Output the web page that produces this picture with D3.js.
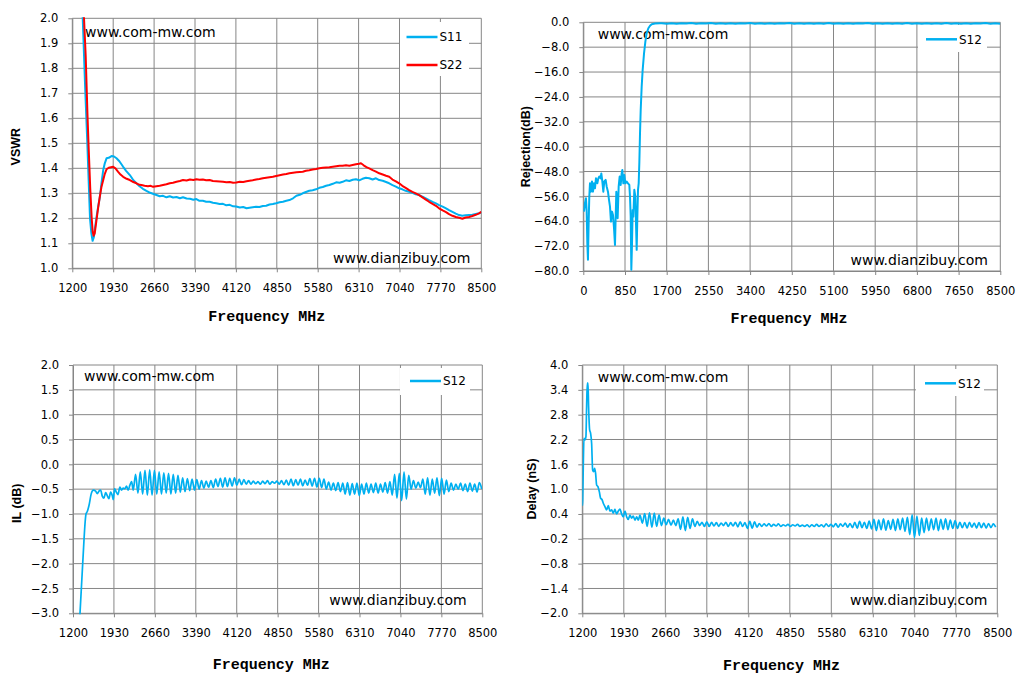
<!DOCTYPE html>
<html><head><meta charset="utf-8">
<script src="https://cdn.jsdelivr.net/npm/d3@7"></script>
<style>body{margin:0;background:#fff}svg{display:block}</style>
</head><body>
<script>
// ---------- DATA ----------
const xTicksVSWR = [1200,1930,2660,3390,4120,4850,5580,6310,7040,7770,8500];
const xTicksRej = [0,850,1700,2550,3400,4250,5100,5950,6800,7650,8500];
const yTicksVSWR = [1.0,1.1,1.2,1.3,1.4,1.5,1.6,1.7,1.8,1.9,2.0];
const yTicksRej = [-80,-72,-64,-56,-48,-40,-32,-24,-16,-8,0];
const yTicksIL = [-3.0,-2.5,-2.0,-1.5,-1.0,-0.5,0.0,0.5,1.0,1.5,2.0];
const yTicksDelay = [-2.0,-1.4,-0.8,-0.2,0.4,1.0,1.6,2.2,2.8,3.4,4.0];

const s11F = [1370,1386,1430,1468,1495,1516,1540,1562,1585,1610,1633,1660,1693,1720,1752,1780,1811,1850,1900,1945,1989,2040,2108,2160,2227,2290,2345,2400,2460,2523,2590,2650,2702,2760,2820,2880,2939,3000,3060,3120,3176,3240,3300,3360,3414,3470,3530,3590,3651,3710,3770,3830,3889,3950,4010,4070,4126,4190,4250,4310,4363,4420,4480,4540,4601,4660,4720,4780,4838,4900,4960,5020,5075,5140,5200,5260,5313,5370,5430,5490,5550,5610,5670,5730,5788,5850,5910,5970,6025,6085,6145,6205,6263,6320,6380,6440,6500,6560,6620,6678,6740,6800,6856,6915,6975,7034,7090,7150,7212,7270,7330,7390,7450,7510,7568,7630,7690,7746,7810,7870,7924,7985,8045,8103,8160,8220,8281,8340,8400,8460,8500];
const s11V = [2.05,2.0,1.72,1.5,1.33,1.2,1.14,1.11,1.125,1.17,1.206,1.245,1.286,1.34,1.393,1.42,1.44,1.442,1.449,1.447,1.44,1.428,1.406,1.39,1.373,1.352,1.34,1.328,1.318,1.31,1.302,1.297,1.293,1.288,1.29,1.284,1.288,1.283,1.285,1.28,1.284,1.279,1.278,1.274,1.277,1.27,1.27,1.266,1.266,1.262,1.26,1.257,1.258,1.252,1.254,1.248,1.247,1.243,1.245,1.24,1.242,1.244,1.246,1.245,1.249,1.25,1.255,1.257,1.26,1.264,1.266,1.27,1.273,1.28,1.29,1.294,1.3,1.305,1.31,1.312,1.316,1.322,1.325,1.33,1.333,1.338,1.344,1.342,1.346,1.352,1.349,1.354,1.356,1.352,1.358,1.362,1.36,1.355,1.36,1.353,1.35,1.345,1.34,1.333,1.327,1.32,1.316,1.31,1.306,1.302,1.296,1.293,1.287,1.28,1.273,1.266,1.26,1.253,1.247,1.24,1.233,1.226,1.219,1.213,1.21,1.212,1.213,1.214,1.217,1.22,1.223];

const s22F = [1395,1409,1439,1470,1489,1520,1546,1565,1580,1600,1630,1660,1693,1720,1752,1780,1811,1850,1890,1930,1970,2019,2060,2108,2170,2227,2290,2345,2400,2434,2490,2550,2600,2642,2700,2760,2820,2880,2940,2998,3060,3120,3176,3240,3300,3360,3414,3470,3530,3590,3651,3710,3770,3830,3889,3950,4010,4070,4126,4190,4250,4310,4363,4420,4480,4540,4601,4660,4720,4780,4838,4900,4960,5020,5075,5140,5200,5260,5313,5370,5430,5490,5550,5610,5670,5730,5788,5850,5910,5970,6025,6085,6145,6203,6263,6320,6352,6400,6450,6500,6560,6620,6678,6740,6800,6856,6915,6975,7034,7090,7150,7212,7270,7330,7390,7450,7510,7568,7630,7690,7746,7810,7870,7924,7985,8045,8103,8162,8220,8281,8340,8400,8460,8500];
const s22V = [2.05,2.0,1.85,1.62,1.5,1.32,1.2,1.145,1.13,1.14,1.19,1.24,1.29,1.325,1.353,1.378,1.396,1.402,1.404,1.406,1.4,1.386,1.375,1.366,1.358,1.353,1.345,1.34,1.334,1.333,1.33,1.328,1.33,1.326,1.328,1.33,1.333,1.336,1.34,1.342,1.346,1.349,1.353,1.351,1.355,1.353,1.356,1.354,1.355,1.352,1.353,1.349,1.348,1.347,1.346,1.344,1.345,1.342,1.343,1.346,1.345,1.348,1.35,1.352,1.355,1.357,1.36,1.362,1.364,1.366,1.369,1.372,1.375,1.377,1.38,1.382,1.384,1.385,1.386,1.39,1.392,1.395,1.397,1.4,1.402,1.403,1.404,1.406,1.408,1.41,1.41,1.412,1.41,1.413,1.416,1.418,1.42,1.412,1.405,1.4,1.393,1.387,1.38,1.375,1.37,1.366,1.355,1.348,1.34,1.33,1.322,1.313,1.306,1.3,1.293,1.284,1.275,1.266,1.258,1.25,1.24,1.232,1.225,1.217,1.21,1.205,1.202,1.198,1.203,1.205,1.209,1.214,1.22,1.226];

const rejHeadF = [14,34,54,68,82,95,109,122,136,156,177,197,218,238,258,286,306,326,354,367,388,408,428,456,476,503,524,544,564,585,605,626,646,660,673,687,700,721,741,762,782,796,816,836,857,884,911,938,952,966,979,993,1006,1020,1040,1061,1074,1088,1102,1115,1129,1142,1156,1170,1190,1210,1238,1265,1292,1326,1360,1394,1462,1564];
const rejHeadV = [-60.9,-58.2,-56.6,-60.4,-71.1,-76.4,-64.6,-56.1,-51.8,-54.5,-51.2,-54.5,-51.8,-53.4,-50.2,-51.8,-50.2,-49.6,-50.2,-48.6,-51.2,-54.5,-51.2,-50.7,-52.8,-54.5,-57.1,-59.3,-64.1,-60.9,-62.0,-66.2,-71.6,-62.5,-54.5,-58.2,-63.0,-52.8,-49.6,-52.3,-48.6,-47.5,-51.8,-49.1,-51.8,-51.2,-51.8,-52.3,-56.1,-62.5,-79.6,-71.1,-60.4,-62.5,-53.9,-56.1,-64.6,-73.2,-62.5,-53.9,-51.8,-45.3,-35.7,-28.2,-20.7,-15.3,-10.0,-6.2,-3.5,-1.9,-1.1,-0.6,-0.4,-0.3];
const rejTailStart = 1600, rejTailStep = 100;
const rejTailV = [-0.3,-0.45,-0.28,-0.5,-0.3,-0.42,-0.25,-0.48,-0.3,-0.4,-0.26,-0.5,-0.3,-0.44,-0.27,-0.5,-0.3,-0.42,-0.25,-0.47,-0.3,-0.45,-0.28,-0.5,-0.3,-0.42,-0.26,-0.48,-0.3,-0.44,-0.27,-0.5,-0.3,-0.43,-0.25,-0.48,-0.3,-0.45,-0.28,-0.5,-0.3,-0.42,-0.26,-0.47,-0.3,-0.45,-0.27,-0.5,-0.3,-0.43,-0.25,-0.48,-0.3,-0.45,-0.28,-0.5,-0.3,-0.44,-0.26,-0.48,-0.3,-0.45,-0.27,-0.5,-0.3,-0.42,-0.26,-0.48,-0.3,-0.45];

const ilHeadF = [1300,1325,1373,1432,1455,1485,1526,1562,1604,1633,1663,1693,1722,1752,1782,1811,1841,1871,1900,1918,1942,1972,2001,2037,2066,2096,2126,2155,2185,2215,2245];
const ilHeadV = [-3.6,-3.0,-2.0,-1.0,-0.95,-0.83,-0.59,-0.52,-0.54,-0.59,-0.54,-0.52,-0.64,-0.68,-0.57,-0.63,-0.69,-0.56,-0.63,-0.71,-0.49,-0.56,-0.61,-0.46,-0.52,-0.48,-0.49,-0.44,-0.52,-0.42,-0.35];
const ilOscStart = 2274, ilOscStep = 42;
const ilOscV = [-0.52,
 -0.2,-0.58,-0.15,-0.6,
 -0.12,-0.62,-0.11,-0.62,-0.12,-0.6,
 -0.15,-0.6,-0.17,-0.58,
 -0.18,-0.6,-0.2,-0.58,-0.22,
 -0.56,-0.27,-0.55,-0.29,-0.53,
 -0.3,-0.52,-0.31,-0.5,-0.33,
 -0.48,-0.34,-0.46,-0.33,-0.47,-0.3,-0.45,
 -0.28,-0.46,-0.27,-0.45,-0.28,-0.44,-0.27,
 -0.42,-0.3,-0.41,-0.31,-0.4,
 -0.33,-0.4,-0.34,-0.39,-0.35,-0.4,-0.34,-0.39,-0.33,-0.4,-0.35,-0.38,-0.34,-0.4,-0.33,-0.41,-0.32,
 -0.42,-0.3,-0.43,-0.31,-0.42,-0.3,-0.43,-0.32,-0.42,-0.29,-0.44,-0.28,
 -0.46,-0.28,-0.47,-0.3,
 -0.5,-0.36,-0.52,-0.38,-0.53,-0.37,-0.55,
 -0.38,-0.6,-0.37,-0.62,-0.39,-0.6,-0.38,-0.63,-0.4,-0.6,-0.38,-0.58,
 -0.4,-0.57,-0.38,-0.58,-0.4,-0.56,-0.37,-0.58,-0.35,-0.62,
 -0.2,-0.68,-0.18,-0.73,-0.15,-0.7,-0.22,
 -0.5,-0.33,-0.48,-0.36,-0.47,
 -0.3,-0.6,-0.27,-0.62,-0.3,-0.58,-0.27,-0.63,-0.28,-0.6,-0.32,-0.55,
 -0.38,-0.52,-0.4,-0.5,-0.38,-0.53,-0.4,
 -0.55,-0.38,-0.54,-0.4,-0.56,-0.37,-0.5];

const dlHeadF = [1200,1207,1218,1229,1247,1264,1276,1288,1300,1311,1329,1346,1364,1382,1399,1417,1434,1452,1475,1499,1522,1546,1569,1598,1628,1657,1686,1716,1745,1774,1804,1833,1862,1892,1921,1950,1980,2009,2038,2068,2097,2126,2156,2185];
const dlHeadV = [0.6,0.74,1.62,2.23,2.19,2.27,2.99,3.56,3.56,2.99,2.43,2.35,2.11,1.46,1.42,1.5,1.38,1.10,1.06,0.94,0.78,0.75,0.66,0.58,0.5,0.6,0.47,0.5,0.42,0.51,0.4,0.47,0.52,0.4,0.33,0.47,0.33,0.27,0.37,0.3,0.35,0.25,0.33,0.25];
const dlOscStart = 2214, dlOscStep = 42;
const dlOscV = [0.37,
 0.18,0.41,0.1,0.43,0.08,0.42,0.1,0.38,0.12,0.3,
 0.14,0.27,0.13,0.25,0.12,0.28,
 0.03,0.33,0.0,0.32,0.05,0.28,
 0.1,0.22,0.12,0.2,
 0.1,0.21,0.1,0.2,0.11,0.19,0.1,0.18,0.12,0.2,0.1,0.19,0.11,0.2,0.09,0.21,0.1,0.19,
 0.05,0.22,0.06,0.21,0.08,
 0.17,0.1,0.16,0.11,0.17,0.1,0.15,0.11,0.16,0.1,0.14,0.11,0.15,0.1,0.14,0.11,0.15,0.1,0.13,0.1,0.14,0.09,0.14,0.1,0.15,0.1,0.14,0.09,0.16,0.1,0.15,0.09,0.17,0.08,0.16,0.1,0.18,0.08,0.17,0.07,
 0.2,0.06,0.22,0.07,0.2,0.05,0.23,0.04,
 0.27,0.0,0.25,0.02,0.28,0.01,0.24,0.03,0.27,0.0,0.28,0.02,0.3,-0.02,
 0.32,-0.1,0.38,-0.17,0.35,-0.12,0.3,-0.05,
 0.3,0.0,0.28,0.02,0.3,0.0,0.27,0.03,0.28,0.02,0.25,0.05,0.24,0.05,
 0.2,0.07,0.19,0.06,0.2,0.08,0.18,0.06,0.19,0.07,0.18,0.06,0.17,0.07,0.16,0.08];

// ---------- BUILD SERIES ----------
const zip = (F, V) => F.map((f, i) => [f, V[i]]);
const seq = (start, step, V) => V.map((v, i) => [start + step * i, v]);
const serS11 = zip(s11F, s11V);
const serS22 = zip(s22F, s22V);
const serRej = zip(rejHeadF, rejHeadV).concat(seq(rejTailStart, rejTailStep, rejTailV));
const serIL = zip(ilHeadF, ilHeadV).concat(seq(ilOscStart, ilOscStep, ilOscV));
const serDL = zip(dlHeadF, dlHeadV).concat(seq(dlOscStart, dlOscStep, dlOscV));

// ---------- DRAW ----------
const BLUE = '#00B0F0', RED = '#FF0000', GRID = '#868686';
const svg = d3.select('body').append('svg').attr('width', 1021).attr('height', 682);
svg.append('rect').attr('width', 1021).attr('height', 682).attr('fill', '#fff');
let clipId = 0;

function panel(c) {
  const g = svg.append('g');
  const x = d3.scaleLinear().domain(c.xDomain).range([c.x0, c.x1]);
  const y = d3.scaleLinear().domain(c.yDomain).range([c.y1, c.y0]);
  // grid
  g.selectAll('line.gx').data(c.xTicks).join('line')
    .attr('x1', d => x(d)).attr('x2', d => x(d)).attr('y1', c.y0).attr('y2', c.y1)
    .attr('stroke', GRID).attr('stroke-width', 1);
  g.selectAll('line.gy').data(c.yTicks).join('line')
    .attr('y1', d => y(d)).attr('y2', d => y(d)).attr('x1', c.x0).attr('x2', c.x1)
    .attr('stroke', GRID).attr('stroke-width', 1);
  // axes
  const ax = g.append('g').attr('transform', `translate(0,${c.y1})`)
    .call(d3.axisBottom(x).tickValues(c.xTicks).tickSize(4).tickSizeOuter(0).tickPadding(12).tickFormat(d3.format('d')));
  const ay = g.append('g').attr('transform', `translate(${c.x0},0)`)
    .call(d3.axisLeft(y).tickValues(c.yTicks).tickSize(4).tickSizeOuter(0).tickPadding(10).tickFormat(d3.format('.1f')));
  [ax, ay].forEach(a => {
    a.select('.domain').attr('stroke', GRID);
    a.selectAll('.tick line').attr('stroke', GRID);
    a.selectAll('.tick text').attr('fill', '#000').style('font-family', 'DejaVu Sans').style('font-size', '11.5px');
  });
  // clip
  const id = 'clip' + (clipId++);
  g.append('clipPath').attr('id', id).append('rect')
    .attr('x', c.x0).attr('y', c.y0 - 1).attr('width', c.x1 - c.x0).attr('height', c.y1 - c.y0 + 2);
  // watermarks
  g.append('text').attr('x', c.wm1[0]).attr('y', c.wm1[1]).attr('dy', '0.36em')
    .style('font-family', 'DejaVu Sans').style('font-size', '14px').attr('fill', '#000').text('www.com-mw.com');
  g.append('text').attr('x', c.wm2[0]).attr('y', c.wm2[1]).attr('dy', '0.36em')
    .style('font-family', 'DejaVu Sans').style('font-size', '14px').attr('fill', '#000').text('www.dianzibuy.com');
  // series
  const lg = g.append('g').attr('clip-path', `url(#${id})`);
  c.series.forEach(s => {
    lg.append('path').datum(s.data)
      .attr('d', d3.line().x(d => x(d[0])).y(d => y(d[1])).curve(s.curve || d3.curveLinear))
      .attr('fill', 'none').attr('stroke', s.color).attr('stroke-width', s.width || 2).attr('stroke-linejoin', 'round');
  });
  // legend
  const L = c.legend;
  g.append('rect').attr('x', L.box[0]).attr('y', L.box[1]).attr('width', L.box[2]).attr('height', L.box[3]).attr('fill', '#fff');
  c.series.forEach((s, i) => {
    const ly = L.y0 + i * 28;
    g.append('line').attr('x1', L.lx0).attr('x2', L.lx0 + 31).attr('y1', ly).attr('y2', ly)
      .attr('stroke', s.color).attr('stroke-width', 2.5);
    g.append('text').attr('x', L.lx0 + 33).attr('y', ly).attr('dy', '0.36em')
      .style('font-family', 'DejaVu Sans').style('font-size', '12px').attr('fill', '#000').text(s.name);
  });
  // titles
  g.append('text').attr('x', c.xt[0]).attr('y', c.xt[1]).attr('dy', '0.3em').attr('text-anchor', 'middle')
    .style('font-family', 'Liberation Mono').style('font-weight', 'bold').style('font-size', '15px').attr('fill', '#000')
    .text('Frequency MHz');
  g.append('text').attr('transform', `translate(${c.yt[0]},${c.yt[1]}) rotate(-90)`).attr('dy', '0.36em')
    .attr('text-anchor', 'middle')
    .style('font-family', 'Liberation Sans').style('font-weight', 'bold').style('font-size', '12.5px').attr('fill', '#000')
    .text(c.yTitle);
}

panel({
  x0: 72.3, x1: 481.3, y0: 18.3, y1: 268.3,
  xDomain: [1200, 8500], yDomain: [1.0, 2.0], xTicks: xTicksVSWR, yTicks: yTicksVSWR,
  series: [{name: 'S11', color: BLUE, data: serS11}, {name: 'S22', color: RED, data: serS22}],
  legend: {box: [400, 22, 69, 54], lx0: 406.5, y0: 37},
  wm1: [85, 31.5], wm2: [333, 257.5], xt: [266.7, 316], yt: [15.7, 146.7], yTitle: 'VSWR'
});
panel({
  x0: 583.3, x1: 1000.3, y0: 22.3, y1: 271,
  xDomain: [0, 8500], yDomain: [-80, 0], xTicks: xTicksRej, yTicks: yTicksRej,
  series: [{name: 'S12', color: BLUE, data: serRej}],
  legend: {box: [918, 25, 69, 27], lx0: 926, y0: 39.3},
  wm1: [597.7, 34.3], wm2: [850.5, 260], xt: [789, 318.3], yt: [525, 146.7], yTitle: 'Rejection(dB)'
});
panel({
  x0: 73, x1: 482.3, y0: 365, y1: 613.3,
  xDomain: [1200, 8500], yDomain: [-3, 2], xTicks: xTicksVSWR, yTicks: yTicksIL,
  series: [{name: 'S12', color: BLUE, data: serIL, curve: d3.curveMonotoneX, width: 1.7}],
  legend: {box: [400, 368, 70, 27], lx0: 410, y0: 381},
  wm1: [84, 376], wm2: [329.3, 600], xt: [271.2, 664], yt: [16.7, 503.3], yTitle: 'IL (dB)'
});
panel({
  x0: 582.3, x1: 997.3, y0: 365, y1: 613.3,
  xDomain: [1200, 8500], yDomain: [-2, 4], xTicks: xTicksVSWR, yTicks: yTicksDelay,
  series: [{name: 'S12', color: BLUE, data: serDL, curve: d3.curveMonotoneX, width: 1.7}],
  legend: {box: [916, 369, 68, 27], lx0: 925, y0: 383.3},
  wm1: [597.7, 376.7], wm2: [850, 600], xt: [781.5, 665], yt: [531.7, 489], yTitle: 'Delay (nS)'
});
</script>
</body></html>
